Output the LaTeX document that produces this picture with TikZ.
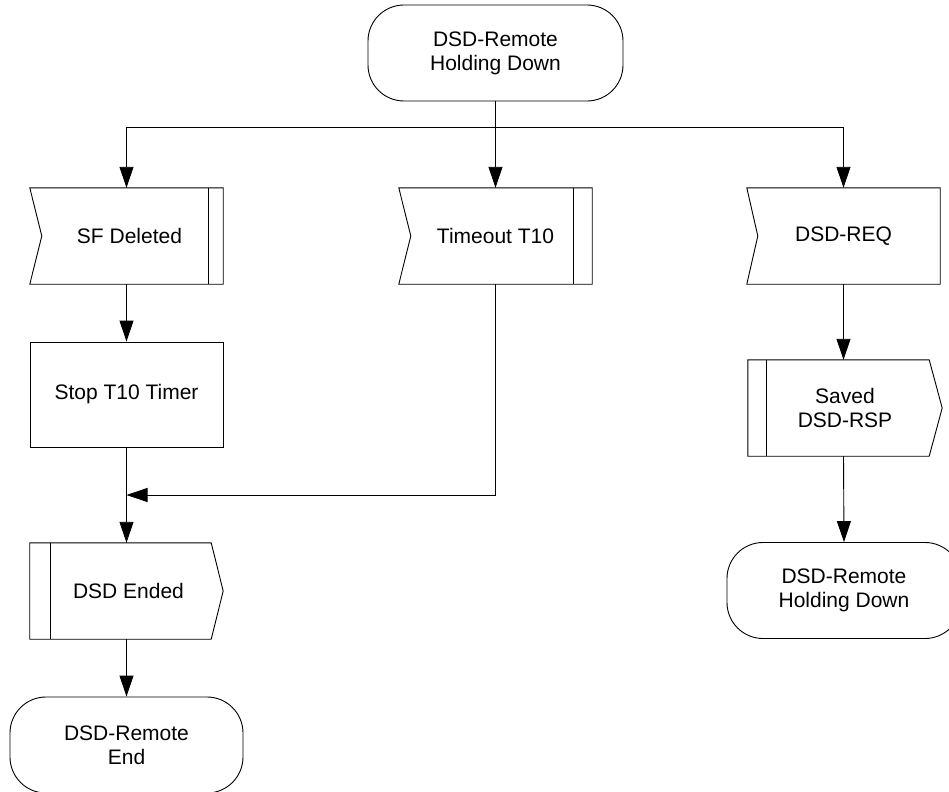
\documentclass[tikz,border=0pt]{standalone}
\usepackage{fontspec}
\setmainfont{Liberation Sans}
\usetikzlibrary{arrows.meta,calc}
\begin{document}
\begin{tikzpicture}[x=1bp,y=-1bp,
  every node/.style={font=\fontsize{21bp}{24bp}\selectfont, align=center, inner sep=0pt},
  lin/.style={line width=0.9bp, draw=black},
  arr/.style={lin, -{Triangle[length=21bp,width=14bp]}},
  term/.style={lin, rounded corners=36bp, minimum height=96bp},
  box/.style={minimum height=96bp, minimum width=193bp},
]
\useasboundingbox (0,0) rectangle (949,792);

% terminators
\node[term, minimum width=255bp] (top) at (495.5,53) {DSD-Remote\\Holding Down};
\node[term, minimum width=233bp] (endL) at (126.5,745) {DSD-Remote\\End};
\node[term, minimum width=234bp] (endR) at (844,590.5) {DSD-Remote\\Holding Down};

% input signals
\node[box] (sf) at (126.5,236) {\hspace*{6bp}SF Deleted};
\draw[lin] (sf.north west) -- (sf.north east) -- (sf.south east) -- (sf.south west) -- ($(sf.west)+(12,0)$) -- cycle;
\draw[lin] ($(sf.north east)+(-15,0)$) -- ($(sf.south east)+(-15,0)$);

\node[box] (tmo) at (495.5,236) {Timeout T10};
\draw[lin] (tmo.north west) -- (tmo.north east) -- (tmo.south east) -- (tmo.south west) -- ($(tmo.west)+(12,0)$) -- cycle;
\draw[lin] ($(tmo.north east)+(-19,0)$) -- ($(tmo.south east)+(-19,0)$);

\node[box] (req) at (843.5,236) {DSD-REQ};
\draw[lin] (req.north west) -- (req.north east) -- (req.south east) -- (req.south west) -- ($(req.west)+(11,0)$) -- cycle;

% task
\node[box, lin, minimum height=105bp] (stop) at (126.5,394.5) {Stop T10 Timer};

% output signals
\node[box] (ended) at (126.5,591) {\hspace*{4bp}DSD Ended};
\draw[lin] (ended.north west) -- ($(ended.north east)+(-12,0)$) -- (ended.east) -- ($(ended.south east)+(-12,0)$) -- (ended.south west) -- cycle;
\draw[lin] ($(ended.north west)+(21,0)$) -- ($(ended.south west)+(21,0)$);

\node[box, minimum width=194bp] (saved) at (845,408) {Saved\\DSD-RSP};
\draw[lin] (saved.north west) -- ($(saved.north east)+(-13,0)$) -- (saved.east) -- ($(saved.south east)+(-13,0)$) -- (saved.south west) -- cycle;
\draw[lin] ($(saved.north west)+(19,0)$) -- ($(saved.south west)+(19,0)$);

% connectors
\coordinate (bus) at (0,127);
\coordinate (mrg) at (0,495);
\draw[lin] (top.south) -- (top.south |- bus);
\draw[lin] (sf.north |- bus) -- (req.north |- bus);
\draw[arr] (sf.north |- bus) -- (sf.north);
\draw[arr] (tmo.north |- bus) -- (tmo.north);
\draw[arr] (req.north |- bus) -- (req.north);
\draw[arr] (sf.south) -- (stop.north);
\draw[arr] (stop.south) -- (ended.north);
\draw[arr] (tmo.south) -- (tmo.south |- mrg) -- (stop.south |- mrg);
\draw[arr] (ended.south) -- (endL.north);
\draw[arr] (req.south) -- (req.south |- saved.north);
\draw[arr] (saved.south -| req.south) -- (endR.north);
\end{tikzpicture}
\end{document}
